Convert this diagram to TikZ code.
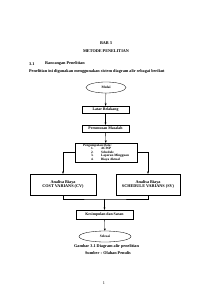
\documentclass[tikz,border=0pt]{standalone}
\usepackage{fontspec}
\setmainfont{Liberation Serif}
\usetikzlibrary{arrows.meta,positioning,shapes.geometric}

\begin{document}
\begin{tikzpicture}[
  kotak/.style={draw, line width=0.9pt, align=center, font=\fontsize{11}{13}\selectfont\bfseries, inner sep=1pt},
  bulat/.style={draw, ellipse, line width=0.9pt, font=\bfseries, inner sep=1pt},
  teks/.style={font=\large, inner sep=0pt},
  >=Stealth, line width=0.9pt
]
  \useasboundingbox (0,0) rectangle (21.2,-30);

  % judul bab
  \node[teks, font=\large\bfseries] (bab)   at (10.6,-4.3) {BAB 3};
  \node[teks, font=\large\bfseries] (judul) at (10.6,-5.1) {METODE PENELITIAN};
  \node[teks, font=\large\bfseries, anchor=west] (nomor) at (2.9,-6.4) {3.1};
  \node[teks, font=\large\bfseries, anchor=west] (sub)   at (4.5,-6.4) {Rancangan Penelitian};
  \node[teks, font=\large\bfseries, anchor=west] (par) at (2.9,-7.2)
      {Penelitian ini digunakan menggunakan sistem diagram alir sebagai berikut};

  % diagram alir
  \node[bulat, minimum width=4cm, minimum height=1.1cm]   (mulai) at (10.6,-8.75)  {Mulai};
  \node[kotak, minimum width=4.7cm, minimum height=0.7cm] (latar) at (10.55,-10.95) {Latar Belakang};
  \node[kotak, minimum width=4.7cm, minimum height=0.7cm] (rumus) at (10.55,-12.85) {Perumusan Masalah};
  \node[kotak, minimum width=6.2cm, minimum height=1.9cm, align=left,
        font=\fontsize{9.5}{10.2}\selectfont\bfseries] (kumpul) at (10.6,-15.25)
      {Pengumpulan Data:\\
       \makebox[18mm][l]{\hspace{8mm}1.}ACWP\\
       \makebox[18mm][l]{\hspace{8mm}2.}Schedule\\
       \makebox[18mm][l]{\hspace{8mm}3.}Laporan Mingguan\\
       \makebox[18mm][l]{\hspace{8mm}4.}Biaya Aktual};
  \node[kotak, font=\large\bfseries, minimum width=6.6cm, minimum height=2.1cm] (cv) at (6.3,-18.45)
      {Analisa Biaya\\COST VARIANS (CV)};
  \node[kotak, font=\large\bfseries, minimum width=6.4cm, minimum height=2.1cm] (sv) at (14.8,-18.45)
      {Analisa Biaya\\SCHEDULE VARIANS (SV)};
  \node[kotak, minimum width=5.7cm, minimum height=0.9cm] (simpul) at (10.45,-21.45)
      {Kesimpulan dan Saran};
  \node[bulat, minimum width=5.2cm, minimum height=1.1cm] (selesai) at (10.5,-23.65) {Selesai};

  \coordinate (gabung) at (simpul.north |- 0,-19.9);

  \draw[->] (mulai) -- (latar);
  \draw[->] (latar) -- (rumus);
  \draw[->] (rumus) -- (kumpul);
  \draw[->] (kumpul.west) -| (cv.north);
  \draw[->] (kumpul.east) -| (sv.north);
  \draw (cv.south) |- (gabung) -| (sv.south);
  \draw[->] (gabung) -- (simpul);
  \draw[->] (simpul) -- (selesai);

  % keterangan
  \node[teks, font=\large\bfseries] (gambar) at (10.65,-24.6) {Gambar 3.1 Diagram alir penelitian};
  \node[teks, font=\large\bfseries] (sumber) at (10.8,-25.3)  {Sumber : Olahan Penulis};
  \node[teks] (hal) at (10.4,-28.3) {1};
\end{tikzpicture}
\end{document}
